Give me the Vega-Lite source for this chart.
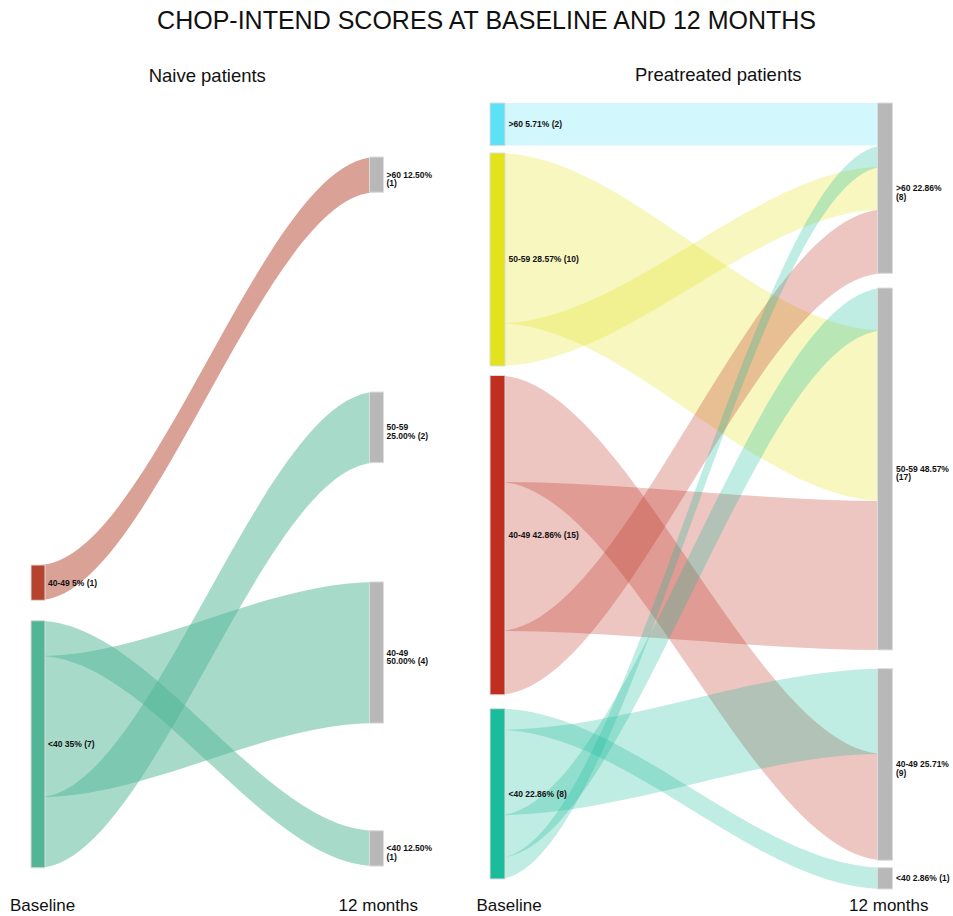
{
  "$schema": "https://vega.github.io/schema/vega-lite/v6.json",
  "background": "white",
  "padding": {"left": 9, "top": 9, "right": 0, "bottom": 0},
  "title": {"text": "CHOP-INTEND SCORES AT BASELINE AND 12 MONTHS", "fontSize": 25, "fontWeight": "normal", "font": "Liberation Sans", "color": "#111111", "anchor": "middle", "dx": 7, "offset": 32},
  "spacing": 120.5,
  "bounds": "flush",
  "resolve": {"scale": {"color": "independent", "x": "independent", "y": "independent"}},
  "datasets": {
    "naive_nodes": [
      {"stage": 0, "cat": "40-49", "top": 11.56, "bottom": 12.56, "mid": 12.06, "label": "40-49 5% (1)"},
      {"stage": 0, "cat": "<40", "top": 13.14, "bottom": 20.14, "mid": 16.64, "label": "<40 35% (7)"},
      {"stage": 1, "cat": "12 months", "top": 0, "bottom": 1, "mid": 0.5, "label": ">60 12.50%\n(1)"},
      {"stage": 1, "cat": "12 months", "top": 6.66, "bottom": 8.66, "mid": 7.66, "label": "50-59\n25.00% (2)"},
      {"stage": 1, "cat": "12 months", "top": 12.04, "bottom": 16.04, "mid": 14.04, "label": "40-49\n50.00% (4)"},
      {"stage": 1, "cat": "12 months", "top": 19.09, "bottom": 20.09, "mid": 19.59, "label": "<40 12.50%\n(1)"}
    ],
    "naive_flows": [
      {"flow": "40-49 to >60", "source": "40-49", "x": -1, "top": 11.56, "bottom": 12.56},
      {"flow": "40-49 to >60", "source": "40-49", "x": 0, "top": 11.56, "bottom": 12.56},
      {"flow": "40-49 to >60", "source": "40-49", "x": 1, "top": 0, "bottom": 1},
      {"flow": "40-49 to >60", "source": "40-49", "x": 2, "top": 0, "bottom": 1},
      {"flow": "<40 to <40", "source": "<40", "x": -1, "top": 13.14, "bottom": 14.14},
      {"flow": "<40 to <40", "source": "<40", "x": 0, "top": 13.14, "bottom": 14.14},
      {"flow": "<40 to <40", "source": "<40", "x": 1, "top": 19.09, "bottom": 20.09},
      {"flow": "<40 to <40", "source": "<40", "x": 2, "top": 19.09, "bottom": 20.09},
      {"flow": "<40 to 40-49", "source": "<40", "x": -1, "top": 14.14, "bottom": 18.14},
      {"flow": "<40 to 40-49", "source": "<40", "x": 0, "top": 14.14, "bottom": 18.14},
      {"flow": "<40 to 40-49", "source": "<40", "x": 1, "top": 12.04, "bottom": 16.04},
      {"flow": "<40 to 40-49", "source": "<40", "x": 2, "top": 12.04, "bottom": 16.04},
      {"flow": "<40 to 50-59", "source": "<40", "x": -1, "top": 18.14, "bottom": 20.14},
      {"flow": "<40 to 50-59", "source": "<40", "x": 0, "top": 18.14, "bottom": 20.14},
      {"flow": "<40 to 50-59", "source": "<40", "x": 1, "top": 6.66, "bottom": 8.66},
      {"flow": "<40 to 50-59", "source": "<40", "x": 2, "top": 6.66, "bottom": 8.66}
    ],
    "pre_nodes": [
      {"stage": 0, "cat": ">60", "top": 0, "bottom": 2, "mid": 1, "label": ">60 5.71% (2)"},
      {"stage": 0, "cat": "50-59", "top": 2.35, "bottom": 12.35, "mid": 7.35, "label": "50-59 28.57% (10)"},
      {"stage": 0, "cat": "40-49", "top": 12.8, "bottom": 27.8, "mid": 20.3, "label": "40-49 42.86% (15)"},
      {"stage": 0, "cat": "<40", "top": 28.45, "bottom": 36.45, "mid": 32.45, "label": "<40 22.86% (8)"},
      {"stage": 1, "cat": "12 months", "top": 0, "bottom": 8, "mid": 4, "label": ">60 22.86%\n(8)"},
      {"stage": 1, "cat": "12 months", "top": 8.69, "bottom": 25.69, "mid": 17.19, "label": "50-59 48.57%\n(17)"},
      {"stage": 1, "cat": "12 months", "top": 26.57, "bottom": 35.57, "mid": 31.07, "label": "40-49 25.71%\n(9)"},
      {"stage": 1, "cat": "12 months", "top": 35.92, "bottom": 36.92, "mid": 36.42, "label": "<40 2.86% (1)"}
    ],
    "pre_flows": [
      {"flow": ">60 to >60", "source": ">60", "x": -1, "top": 0, "bottom": 2},
      {"flow": ">60 to >60", "source": ">60", "x": 0, "top": 0, "bottom": 2},
      {"flow": ">60 to >60", "source": ">60", "x": 1, "top": 0, "bottom": 2},
      {"flow": ">60 to >60", "source": ">60", "x": 2, "top": 0, "bottom": 2},
      {"flow": "50-59 to 50-59", "source": "50-59", "x": -1, "top": 2.35, "bottom": 10.35},
      {"flow": "50-59 to 50-59", "source": "50-59", "x": 0, "top": 2.35, "bottom": 10.35},
      {"flow": "50-59 to 50-59", "source": "50-59", "x": 1, "top": 10.69, "bottom": 18.69},
      {"flow": "50-59 to 50-59", "source": "50-59", "x": 2, "top": 10.69, "bottom": 18.69},
      {"flow": "50-59 to >60", "source": "50-59", "x": -1, "top": 10.35, "bottom": 12.35},
      {"flow": "50-59 to >60", "source": "50-59", "x": 0, "top": 10.35, "bottom": 12.35},
      {"flow": "50-59 to >60", "source": "50-59", "x": 1, "top": 3, "bottom": 5},
      {"flow": "50-59 to >60", "source": "50-59", "x": 2, "top": 3, "bottom": 5},
      {"flow": "40-49 to 40-49", "source": "40-49", "x": -1, "top": 12.8, "bottom": 17.8},
      {"flow": "40-49 to 40-49", "source": "40-49", "x": 0, "top": 12.8, "bottom": 17.8},
      {"flow": "40-49 to 40-49", "source": "40-49", "x": 1, "top": 30.57, "bottom": 35.57},
      {"flow": "40-49 to 40-49", "source": "40-49", "x": 2, "top": 30.57, "bottom": 35.57},
      {"flow": "40-49 to 50-59", "source": "40-49", "x": -1, "top": 17.8, "bottom": 24.8},
      {"flow": "40-49 to 50-59", "source": "40-49", "x": 0, "top": 17.8, "bottom": 24.8},
      {"flow": "40-49 to 50-59", "source": "40-49", "x": 1, "top": 18.69, "bottom": 25.69},
      {"flow": "40-49 to 50-59", "source": "40-49", "x": 2, "top": 18.69, "bottom": 25.69},
      {"flow": "40-49 to >60", "source": "40-49", "x": -1, "top": 24.8, "bottom": 27.8},
      {"flow": "40-49 to >60", "source": "40-49", "x": 0, "top": 24.8, "bottom": 27.8},
      {"flow": "40-49 to >60", "source": "40-49", "x": 1, "top": 5, "bottom": 8},
      {"flow": "40-49 to >60", "source": "40-49", "x": 2, "top": 5, "bottom": 8},
      {"flow": "<40 to <40", "source": "<40", "x": -1, "top": 28.45, "bottom": 29.45},
      {"flow": "<40 to <40", "source": "<40", "x": 0, "top": 28.45, "bottom": 29.45},
      {"flow": "<40 to <40", "source": "<40", "x": 1, "top": 35.92, "bottom": 36.92},
      {"flow": "<40 to <40", "source": "<40", "x": 2, "top": 35.92, "bottom": 36.92},
      {"flow": "<40 to 40-49", "source": "<40", "x": -1, "top": 29.45, "bottom": 33.45},
      {"flow": "<40 to 40-49", "source": "<40", "x": 0, "top": 29.45, "bottom": 33.45},
      {"flow": "<40 to 40-49", "source": "<40", "x": 1, "top": 26.57, "bottom": 30.57},
      {"flow": "<40 to 40-49", "source": "<40", "x": 2, "top": 26.57, "bottom": 30.57},
      {"flow": "<40 to 50-59", "source": "<40", "x": -1, "top": 33.45, "bottom": 35.45},
      {"flow": "<40 to 50-59", "source": "<40", "x": 0, "top": 33.45, "bottom": 35.45},
      {"flow": "<40 to 50-59", "source": "<40", "x": 1, "top": 8.69, "bottom": 10.69},
      {"flow": "<40 to 50-59", "source": "<40", "x": 2, "top": 8.69, "bottom": 10.69},
      {"flow": "<40 to >60", "source": "<40", "x": -1, "top": 35.45, "bottom": 36.45},
      {"flow": "<40 to >60", "source": "<40", "x": 0, "top": 35.45, "bottom": 36.45},
      {"flow": "<40 to >60", "source": "<40", "x": 1, "top": 2, "bottom": 3},
      {"flow": "<40 to >60", "source": "<40", "x": 2, "top": 2, "bottom": 3}
    ]
  },
  "hconcat": [
    {
      "width": 338.5,
      "height": 786,
      "title": {"text": "Naive patients", "fontSize": 18.5, "fontWeight": "normal", "font": "Liberation Sans", "color": "#111111", "anchor": "middle", "offset": 18},
      "layer": [
        {
          "data": {"name": "naive_flows"},
          "mark": {"type": "area", "interpolate": "monotone", "orient": "vertical", "clip": true, "opacity": 0.5},
          "encoding": {
            "x": {"field": "x", "type": "quantitative", "scale": {"domain": [0, 1], "padding": 0, "nice": false, "zero": false},
              "axis": {"values": [0, 1], "labelExpr": "datum.value == 0 ? 'Baseline' : '12 months'",
                "labelAlign": {"condition": {"test": "datum.value == 0", "value": "left"}, "value": "right"},
                "labelOffset": {"condition": {"test": "datum.value == 0", "value": -28.5}, "value": 41},
                "ticks": false, "domain": false, "grid": false, "title": null, "labelFontSize": 17, "labelFont": "Liberation Sans",
                "labelColor": "#111111", "labelPadding": 8, "labelBaseline": "top", "labelFlush": false, "labelOverlap": false}},
            "y": {"field": "top", "type": "quantitative", "scale": {"domain": [-1.53, 20.74], "reverse": true, "nice": false, "zero": false, "padding": 0}, "axis": null},
            "y2": {"field": "bottom"},
            "detail": {"field": "flow"},
            "color": {"field": "source", "type": "nominal", "scale": {"domain": ["40-49", "<40", "12 months"], "range": ["#b5432e", "#52b596", "#b8b8b8"]}, "legend": null}
          }
        },
        {
          "data": {"name": "naive_nodes"},
          "mark": {"type": "bar", "width": 14, "stroke": "#dcdcdc", "strokeWidth": 1},
          "encoding": {
            "x": {"field": "stage", "type": "quantitative"},
            "y": {"field": "top", "type": "quantitative"},
            "y2": {"field": "bottom"},
            "color": {"field": "cat", "type": "nominal", "scale": {"domain": ["40-49", "<40", "12 months"], "range": ["#b5432e", "#52b596", "#b8b8b8"]}, "legend": null}
          }
        },
        {
          "data": {"name": "naive_nodes"},
          "mark": {"type": "text", "align": "left", "baseline": "middle", "dx": 10, "fontSize": 8.5, "fontWeight": "bold", "font": "Liberation Sans", "color": "#111111", "lineBreak": "\n", "lineHeight": 8.5},
          "encoding": {
            "x": {"field": "stage", "type": "quantitative"},
            "y": {"field": "mid", "type": "quantitative"},
            "text": {"field": "label", "type": "nominal"}
          }
        }
      ]
    },
    {
      "width": 387.5,
      "height": 786,
      "title": {"text": "Preatreated patients", "fontSize": 18.5, "fontWeight": "normal", "font": "Liberation Sans", "color": "#111111", "anchor": "middle", "dx": 27, "offset": 18},
      "layer": [
        {
          "data": {"name": "pre_flows"},
          "mark": {"type": "area", "interpolate": "monotone", "orient": "vertical", "clip": true, "opacity": 0.28},
          "encoding": {
            "x": {"field": "x", "type": "quantitative", "scale": {"domain": [0, 1], "padding": 0, "nice": false, "zero": false},
              "axis": {"values": [0, 1], "labelExpr": "datum.value == 0 ? 'Baseline' : '12 months'",
                "labelAlign": {"condition": {"test": "datum.value == 0", "value": "left"}, "value": "right"},
                "labelOffset": {"condition": {"test": "datum.value == 0", "value": -21.5}, "value": 43},
                "ticks": false, "domain": false, "grid": false, "title": null, "labelFontSize": 17, "labelFont": "Liberation Sans",
                "labelColor": "#111111", "labelPadding": 8, "labelBaseline": "top", "labelFlush": false, "labelOverlap": false}},
            "y": {"field": "top", "type": "quantitative", "scale": {"domain": [0, 36.92], "reverse": true, "nice": false, "zero": false, "padding": 0}, "axis": null},
            "y2": {"field": "bottom"},
            "detail": {"field": "flow"},
            "color": {"field": "source", "type": "nominal", "scale": {"domain": [">60", "50-59", "40-49", "<40", "12 months"], "range": ["#5ce1f5", "#e2e31a", "#bf2e1f", "#1abc9c", "#b8b8b8"]}, "legend": null}
          }
        },
        {
          "data": {"name": "pre_nodes"},
          "mark": {"type": "bar", "width": 15, "stroke": "#dcdcdc", "strokeWidth": 1},
          "encoding": {
            "x": {"field": "stage", "type": "quantitative"},
            "y": {"field": "top", "type": "quantitative"},
            "y2": {"field": "bottom"},
            "color": {"field": "cat", "type": "nominal", "scale": {"domain": [">60", "50-59", "40-49", "<40", "12 months"], "range": ["#5ce1f5", "#e2e31a", "#bf2e1f", "#1abc9c", "#b8b8b8"]}, "legend": null}
          }
        },
        {
          "data": {"name": "pre_nodes"},
          "mark": {"type": "text", "align": "left", "baseline": "middle", "dx": 11, "fontSize": 8.5, "fontWeight": "bold", "font": "Liberation Sans", "color": "#111111", "lineBreak": "\n", "lineHeight": 8.5},
          "encoding": {
            "x": {"field": "stage", "type": "quantitative"},
            "y": {"field": "mid", "type": "quantitative"},
            "text": {"field": "label", "type": "nominal"}
          }
        }
      ]
    }
  ],
  "config": {"view": {"stroke": null}, "font": "Liberation Sans"}
}
